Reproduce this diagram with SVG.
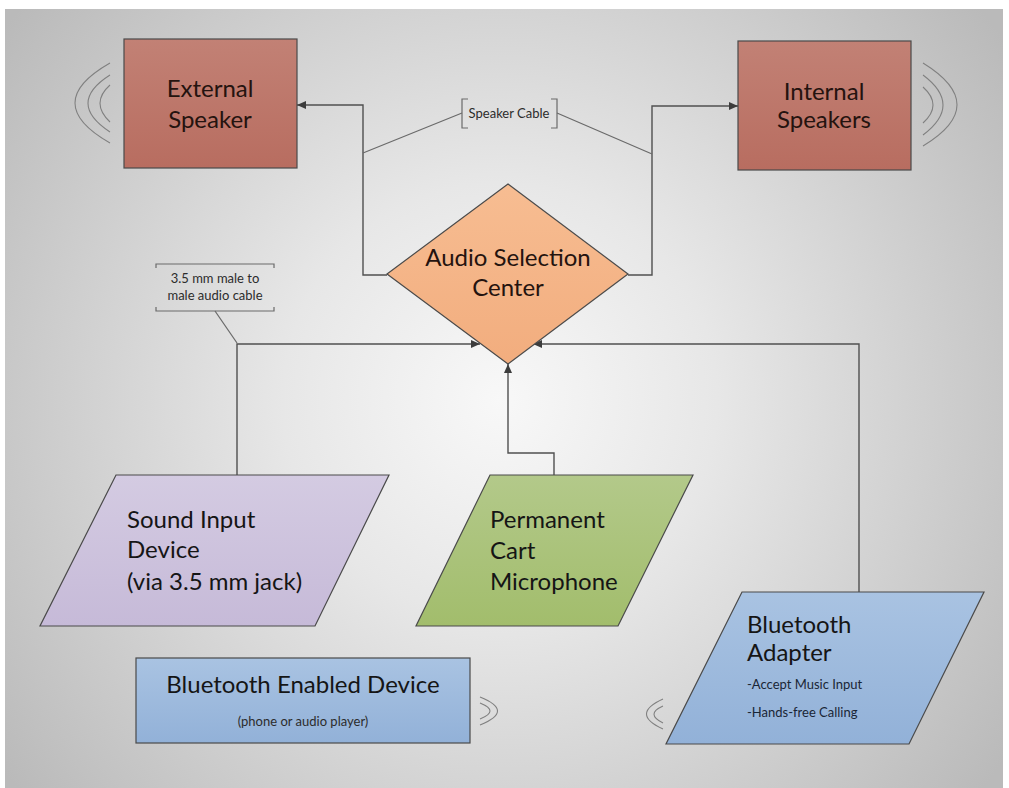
<svg xmlns="http://www.w3.org/2000/svg" width="1009" height="788" viewBox="0 0 1009 788">
<defs>
<radialGradient id="bg" cx="500" cy="400" r="620" gradientUnits="userSpaceOnUse">
<stop offset="0" stop-color="#f8f8f8"/>
<stop offset="0.35" stop-color="#e7e7e7"/>
<stop offset="1" stop-color="#bababa"/>
</radialGradient>
<linearGradient id="gSpk" x1="0" y1="0" x2="0" y2="1">
<stop offset="0" stop-color="#c28175"/>
<stop offset="1" stop-color="#b86d60"/>
</linearGradient>
<linearGradient id="gDia" x1="0" y1="0" x2="0" y2="1">
<stop offset="0" stop-color="#f7bd92"/>
<stop offset="1" stop-color="#f2ad7e"/>
</linearGradient>
<linearGradient id="gLav" x1="0" y1="0" x2="0" y2="1">
<stop offset="0" stop-color="#d4cbe2"/>
<stop offset="1" stop-color="#c6bad8"/>
</linearGradient>
<linearGradient id="gGrn" x1="0" y1="0" x2="0" y2="1">
<stop offset="0" stop-color="#b3c98a"/>
<stop offset="1" stop-color="#a2bd6c"/>
</linearGradient>
<linearGradient id="gBlu" x1="0" y1="0" x2="0" y2="1">
<stop offset="0" stop-color="#a9c3e2"/>
<stop offset="1" stop-color="#92b1d8"/>
</linearGradient>
<marker id="arr" markerUnits="userSpaceOnUse" markerWidth="10" markerHeight="10" refX="9" refY="5" orient="auto">
<path d="M0,1 L9,5 L0,9 Z" fill="#3c3c3c"/>
</marker>
</defs>
<style>
.shape{stroke:#4a4a4a;stroke-width:1.2}
.conn{fill:none;stroke:#505050;stroke-width:1.4}
.lead{fill:none;stroke:#6a6a6a;stroke-width:1.2}
.arc{fill:none;stroke:#808080;stroke-width:1.1}
.big{font-family:Lato,"Open Sans",sans-serif;font-size:24px;fill:#151515}
.spk{font-family:Lato,"Open Sans",sans-serif;font-size:24px;fill:#24130f}
.sm{font-family:Lato,"Open Sans",sans-serif;font-size:13px;fill:#2c2c2c}
.med{font-family:Lato,"Open Sans",sans-serif;font-size:13px;fill:#1a2636}
</style>
<rect x="5" y="9" width="998" height="779" fill="url(#bg)"/>

<g id="connectors">
<path class="conn" d="M387,275 H363 V105 H297" marker-end="url(#arr)"/>
<path class="conn" d="M628,275 H652 V106 H738" marker-end="url(#arr)"/>
<path class="conn" d="M237,475 V344 H480" marker-end="url(#arr)"/>
<path class="conn" d="M554,475 V453 H508 V364" marker-end="url(#arr)"/>
<path class="conn" d="M859,592 V344 H533" marker-end="url(#arr)"/>
</g>

<g id="label-speaker-cable">
<path class="lead" d="M462,113 L363,153 M557,113 L652,154"/>
<path class="lead" d="M468,99 H462 V128 H468 M551,99 H557 V128 H551"/>
<text class="sm" x="509" y="118" text-anchor="middle">Speaker Cable</text>
</g>

<g id="label-35mm">
<path class="lead" d="M215,311 L237,343"/>
<path class="lead" d="M156,268 V264 H274 V268 M156,307 V311 H274 V307"/>
<text class="sm" x="215" y="283" text-anchor="middle">3.5 mm male to</text>
<text class="sm" x="215" y="300" text-anchor="middle">male audio cable</text>
</g>

<g id="external-speaker">
<path class="arc" d="M110,63 Q40,103 110,143 M110,75 Q66,103 110,132 M110,85 Q90,103 110,122"/>
<rect class="shape" x="124" y="39" width="173" height="129" fill="url(#gSpk)"/>
<text class="spk" x="210" y="97" text-anchor="middle">External</text>
<text class="spk" x="210" y="128" text-anchor="middle">Speaker</text>
</g>

<g id="internal-speakers">
<path class="arc" d="M923,63 Q991,105 923,146 M923,75 Q963,105 923,135 M923,87 Q943,105 923,123"/>
<rect class="shape" x="738" y="41" width="173" height="129" fill="url(#gSpk)"/>
<text class="spk" x="824" y="100" text-anchor="middle">Internal</text>
<text class="spk" x="824" y="128" text-anchor="middle">Speakers</text>
</g>

<g id="audio-selection-center">
<path class="shape" d="M508,184 L628,274 L508,364 L387,274 Z" fill="url(#gDia)" stroke="#7d6650"/>
<text class="spk" x="508" y="266" text-anchor="middle">Audio Selection</text>
<text class="spk" x="508" y="296" text-anchor="middle">Center</text>
</g>

<g id="sound-input-device">
<path class="shape" d="M116,475 L389,475 L315,626 L40,626 Z" fill="url(#gLav)"/>
<text class="big" x="127" y="528">Sound Input</text>
<text class="big" x="127" y="558">Device</text>
<text class="big" x="127" y="590">(via 3.5 mm jack)</text>
</g>

<g id="permanent-cart-microphone">
<path class="shape" d="M490,475 L693,475 L618,626 L416,626 Z" fill="url(#gGrn)"/>
<text class="big" x="490" y="528">Permanent</text>
<text class="big" x="490" y="559">Cart</text>
<text class="big" x="490" y="590">Microphone</text>
</g>

<g id="bluetooth-adapter">
<path class="arc" d="M663,699 Q630,714 663,729 M663,706 Q645,714 663,723"/>
<path class="shape" d="M742,592 L984,592 L909,744 L666,744 Z" fill="url(#gBlu)"/>
<text class="big" x="747" y="633">Bluetooth</text>
<text class="big" x="747" y="661">Adapter</text>
<text class="med" x="747" y="689">-Accept Music Input</text>
<text class="med" x="747" y="717">-Hands-free Calling</text>
</g>

<g id="bluetooth-enabled-device">
<path class="arc" d="M480,697 Q515,711 480,725 M480,703 Q500,711 480,719"/>
<rect class="shape" x="136" y="658" width="334" height="85" fill="url(#gBlu)"/>
<text class="big" x="303" y="693" text-anchor="middle">Bluetooth Enabled Device</text>
<text class="sm" x="303" y="726" text-anchor="middle">(phone or audio player)</text>
</g>
</svg>
